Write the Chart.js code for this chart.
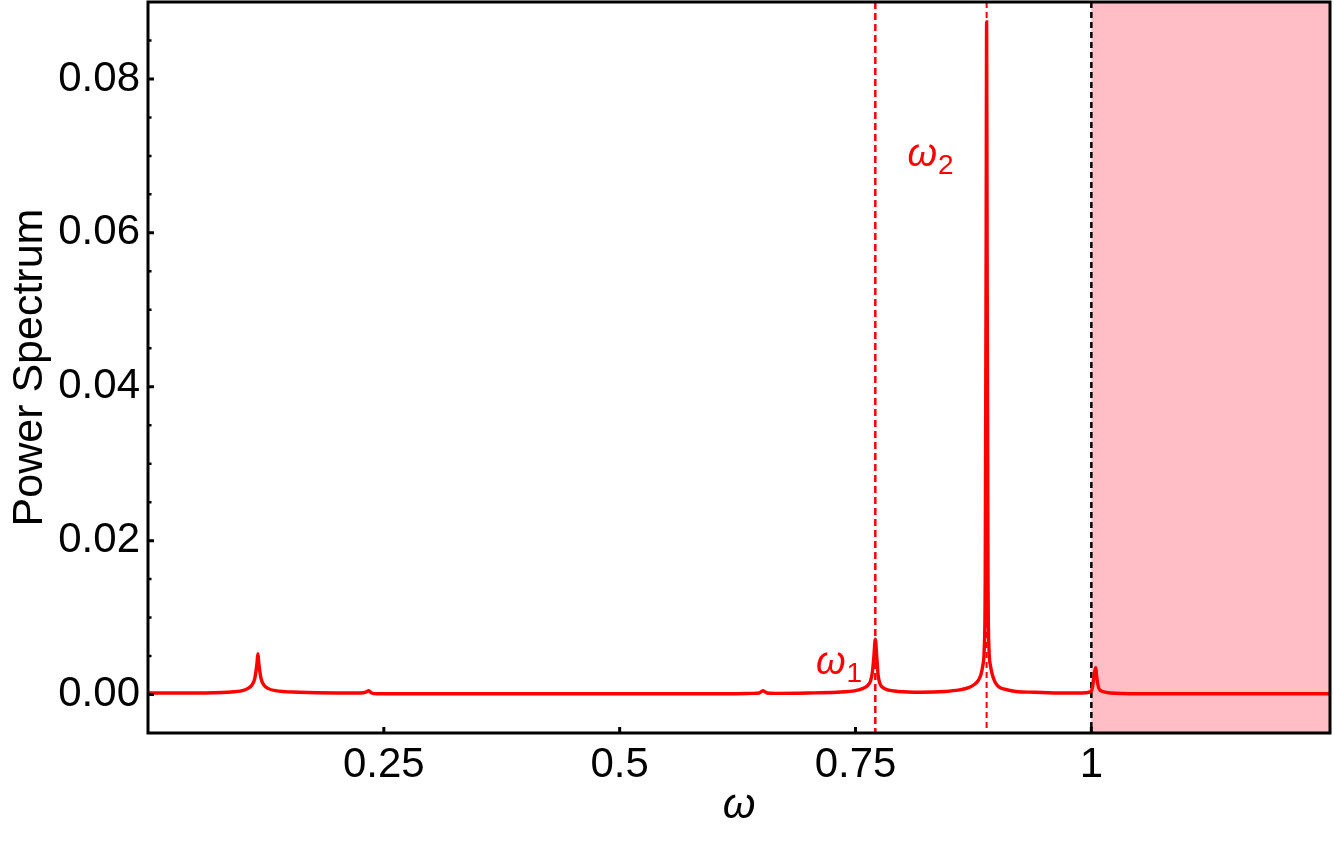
<!DOCTYPE html>
<html><head><meta charset="utf-8">
<script src="https://cdn.jsdelivr.net/npm/chart.js@4/dist/chart.umd.min.js"></script>
<style>html,body{margin:0;padding:0;background:#fff;overflow:hidden}#wrap{width:1334px;height:846px}</style>
</head><body><div id="wrap"><canvas id="c" width="1334" height="846"></canvas></div>
<script>
const omega = [
 0.000, 0.050, 0.085, 0.100, 0.106, 0.110, 0.113, 0.1155, 0.1165, 0.1175, 0.120, 0.123, 0.127, 0.135, 0.160, 0.200,
 0.225, 0.231, 0.234, 0.237, 0.243, 0.300, 0.400, 0.500, 0.600, 0.640, 0.648, 0.652, 0.656, 0.665, 0.700, 0.730,
 0.750, 0.758, 0.763, 0.766, 0.768, 0.7695, 0.771, 0.7725, 0.774, 0.776, 0.779, 0.784, 0.795, 0.820,
 0.845, 0.860, 0.870, 0.876, 0.880, 0.883, 0.885, 0.8865, 0.8875, 0.8885, 0.889, 0.8895, 0.8905, 0.8915, 0.893, 0.895,
 0.898, 0.902, 0.908, 0.920, 0.940, 0.970, 0.990, 0.998, 1.001, 1.003, 1.0045, 1.006, 1.008, 1.012, 1.020, 1.050,
 1.100, 1.150, 1.200, 1.253
];
const power = [
 0.0002, 0.0002, 0.0003, 0.0005, 0.0008, 0.0012, 0.0020, 0.0040, 0.0053, 0.0040, 0.0020, 0.0012, 0.0008, 0.0005, 0.0003, 0.0002,
 0.0002, 0.0003, 0.0005, 0.0002, 0.0001, 0.0001, 0.0001, 0.0001, 0.0001, 0.00015, 0.0002, 0.0005, 0.0002, 0.00015, 0.0002, 0.0003,
 0.0005, 0.0008, 0.0012, 0.0018, 0.0030, 0.0050, 0.0072, 0.0050, 0.0025, 0.0014, 0.0009, 0.0006, 0.0004, 0.0003,
 0.0004, 0.0006, 0.0009, 0.0013, 0.0018, 0.0026, 0.0038, 0.0060, 0.0150, 0.0600, 0.0874, 0.0600, 0.0150, 0.0060, 0.0038, 0.0026,
 0.0016, 0.0010, 0.0007, 0.0004, 0.0003, 0.0002, 0.0002, 0.0003, 0.0008, 0.0025, 0.0035, 0.0020, 0.0008, 0.0004, 0.0002, 0.0001,
 0.0001, 0.0001, 0.0001, 0.0001
];
const xTickValues = [0.25, 0.5, 0.75, 1];
const xTickLabels = ['0.25', '0.5', '0.75', '1'];
const yTickValues = [0, 0.02, 0.04, 0.06, 0.08];
const yTickLabels = ['0.00', '0.02', '0.04', '0.06', '0.08'];
const yMinorTicks = [0.005, 0.01, 0.015, 0.025, 0.03, 0.035, 0.045, 0.05, 0.055, 0.065, 0.07, 0.075, 0.085];
const omegaMarkers = [0.771, 0.889];
const omegaMarkerNames = ['1', '2'];
const omegaLabelX = [0.732, 0.829];
const omegaLabelY = [0.0042, 0.0703];
const cutoffOmega = 1.0;
const xRange = [0, 1.253];
const yRange = [-0.005, 0.09];

const FONT = "'Liberation Sans', Arial, sans-serif";

const decor = {
  id: 'decor',
  beforeDatasetsDraw(chart) {
    const {ctx, chartArea: a, scales: {x, y}} = chart;
    ctx.save();
    const xc = x.getPixelForValue(cutoffOmega);
    ctx.fillStyle = 'rgb(255,190,197)';
    ctx.fillRect(xc, a.top, a.right - xc, a.bottom - a.top);
    const styles = [{w: 2.5, d: [7, 4]}, {w: 2, d: [6, 4]}];
    omegaMarkers.forEach((v, i) => {
      const px = x.getPixelForValue(v);
      ctx.strokeStyle = 'rgb(255,0,0)';
      ctx.lineWidth = styles[i].w;
      ctx.setLineDash(styles[i].d);
      ctx.beginPath(); ctx.moveTo(px, a.top); ctx.lineTo(px, a.bottom); ctx.stroke();
    });
    ctx.strokeStyle = '#000';
    ctx.lineWidth = 2.5;
    ctx.setLineDash([6, 4]);
    ctx.beginPath(); ctx.moveTo(xc, a.top); ctx.lineTo(xc, a.bottom); ctx.stroke();
    ctx.restore();
  },
  afterDatasetsDraw(chart) {
    const {ctx, chartArea: a, scales: {x, y}} = chart;
    ctx.save();
    ctx.strokeStyle = '#000';
    ctx.lineWidth = 3;
    ctx.strokeRect(a.left, a.top, a.right - a.left, a.bottom - a.top);
    ctx.lineWidth = 3;
    ctx.beginPath();
    xTickValues.forEach(v => { const px = x.getPixelForValue(v); ctx.moveTo(px, a.bottom); ctx.lineTo(px, a.bottom - 6); });
    yTickValues.forEach(v => { const py = y.getPixelForValue(v); ctx.moveTo(a.left, py); ctx.lineTo(a.left + 6, py); });
    ctx.stroke();
    ctx.lineWidth = 2.5;
    ctx.beginPath();
    yMinorTicks.forEach(v => { const py = y.getPixelForValue(v); ctx.moveTo(a.left, py); ctx.lineTo(a.left + 3.5, py); });
    ctx.stroke();
    ctx.fillStyle = 'rgb(255,0,0)';
    ctx.textBaseline = 'alphabetic';
    omegaMarkers.forEach((v, i) => {
      const px = x.getPixelForValue(omegaLabelX[i]);
      const py = y.getPixelForValue(omegaLabelY[i]);
      ctx.font = 'italic 38px ' + FONT;
      const w = ctx.measureText('ω').width;
      ctx.font = '28px ' + FONT;
      const w2 = ctx.measureText(omegaMarkerNames[i]).width;
      const x0 = px - (w + w2) / 2;
      ctx.font = 'italic 38px ' + FONT;
      ctx.textAlign = 'left';
      ctx.fillText('ω', x0, py + 12);
      ctx.font = '28px ' + FONT;
      ctx.fillText(omegaMarkerNames[i], x0 + w + 1, py + 20);
    });
    ctx.restore();
  }
};

new Chart(document.getElementById('c'), {
  type: 'line',
  data: {
    datasets: [{
      data: omega.map((w, i) => ({x: w, y: power[i]})),
      borderColor: 'rgb(255,0,0)',
      borderWidth: 3.4,
      pointRadius: 0,
      fill: false,
      cubicInterpolationMode: 'monotone'
    }]
  },
  options: {
    responsive: false,
    animation: false,
    devicePixelRatio: 1,
    layout: {padding: {top: 2, right: 4, left: 0, bottom: 0}},
    plugins: {legend: {display: false}, tooltip: {enabled: false}},
    scales: {
      x: {
        type: 'linear', min: xRange[0], max: xRange[1],
        grid: {display: false, drawTicks: false},
        border: {display: false},
        afterBuildTicks: s => { s.ticks = xTickValues.map(v => ({value: v})); },
        afterFit: s => { s.height = 113; s.paddingLeft = 0; s.paddingRight = 0; },
        ticks: {
          autoSkip: false, maxRotation: 0, minRotation: 0, padding: 7, color: '#000',
          font: {family: FONT, size: 42},
          callback: (v) => { const i = xTickValues.indexOf(v); return i >= 0 ? xTickLabels[i] : ''; }
        },
        title: {display: true, text: 'ω', color: '#000', font: {family: FONT, size: 42, style: 'italic'}, padding: {top: 0, bottom: 14}}
      },
      y: {
        type: 'linear', min: yRange[0], max: yRange[1],
        grid: {display: false, drawTicks: false},
        border: {display: false},
        afterBuildTicks: s => { s.ticks = yTickValues.map(v => ({value: v})); },
        afterFit: s => { s.width = 148; s.paddingTop = 0; s.paddingBottom = 0; },
        ticks: {
          autoSkip: false, padding: 8, color: '#000',
          font: {family: FONT, size: 42},
          callback: (v) => { const i = yTickValues.indexOf(v); return i >= 0 ? yTickLabels[i] : ''; }
        },
        title: {display: true, text: 'Power Spectrum', color: '#000', font: {family: FONT, size: 43}, padding: {top: 4, bottom: 0}}
      }
    }
  },
  plugins: [decor]
});
</script></body></html>
